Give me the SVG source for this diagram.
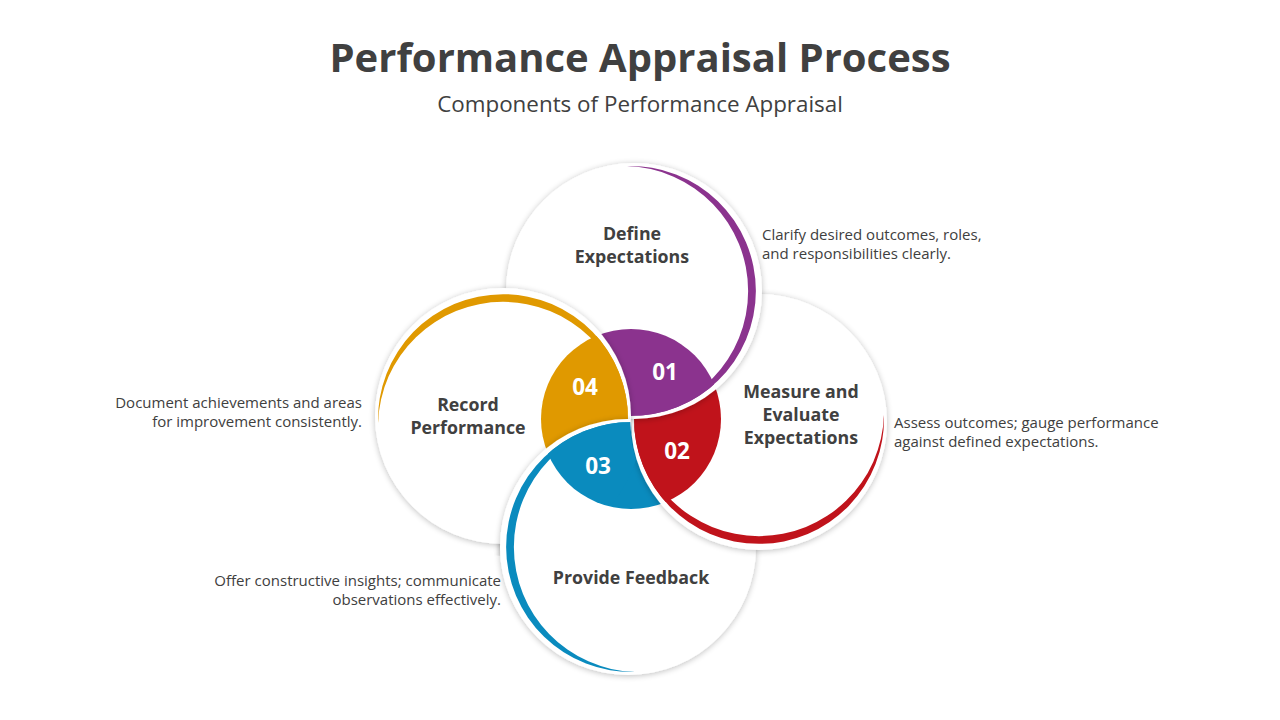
<svg xmlns="http://www.w3.org/2000/svg" xmlns:xlink="http://www.w3.org/1999/xlink" width="1280" height="720" viewBox="0 0 1280 720">
<style>
.title{font-family:"Open Sans","Noto Sans",sans-serif;font-weight:700;font-size:40px;fill:#404040;text-anchor:middle}
.sub{font-family:"Open Sans","Noto Sans",sans-serif;font-size:22.4px;fill:#404040;text-anchor:middle}
.lbl{font-family:"Open Sans","Noto Sans",sans-serif;font-weight:700;font-size:17.8px;fill:#404040;text-anchor:middle}
.num{font-family:"Open Sans","Noto Sans",sans-serif;font-weight:700;font-size:22.5px;fill:#ffffff;text-anchor:middle}
.desc{font-family:"Open Sans","Noto Sans",sans-serif;font-size:15px;fill:#404040}
.r{text-anchor:end}
.disk{fill:#ffffff}
</style>
<defs>
<filter id="sh" x="-20%" y="-20%" width="140%" height="140%">
<feGaussianBlur in="SourceAlpha" stdDeviation="3"/>
<feOffset dx="0" dy="1" result="b"/>
<feComponentTransfer><feFuncA type="linear" slope="0.26"/></feComponentTransfer>
<feMerge><feMergeNode/><feMergeNode in="SourceGraphic"/></feMerge>
</filter>
<clipPath id="cTop"><circle cx="631" cy="291" r="125"/></clipPath>
<clipPath id="cRight"><circle cx="759" cy="419" r="125"/></clipPath>
<clipPath id="cBottom"><circle cx="631" cy="547" r="125"/></clipPath>
<clipPath id="cLeft"><circle cx="503" cy="419" r="125"/></clipPath>
<mask id="mOv" maskUnits="userSpaceOnUse" x="0" y="0" width="1280" height="720">
<circle cx="503" cy="416" r="140" fill="#ffffff"/>
<circle cx="759" cy="422" r="129" fill="#000000"/>
<rect x="631" y="0" width="300" height="417" fill="#000000"/>
</mask>
<g id="shp-top">
<circle class="disk" cx="634" cy="291" r="128" filter="url(#sh)"/>
<path d="M 627 166.06 A 125 125 0 1 1 627 415.94 A 125 125 0 0 0 627 166.06 Z" fill="#8B338E"/>
<circle cx="631" cy="419" r="90" fill="#8B338E" clip-path="url(#cTop)"/>
</g>
<g id="shp-right">
<circle class="disk" cx="759" cy="422" r="128" filter="url(#sh)"/>
<path d="M 883.94 415 A 125 125 0 1 1 634.06 415 A 125 125 0 0 0 883.94 415 Z" fill="#C0131B"/>
<circle cx="631" cy="419" r="90" fill="#C0131B" clip-path="url(#cRight)"/>
</g>
<g id="shp-bottom">
<circle class="disk" cx="628" cy="547" r="128" filter="url(#sh)"/>
<path d="M 635 671.94 A 125 125 0 1 1 635 422.06 A 125 125 0 0 0 635 671.94 Z" fill="#0A8BBE"/>
<circle cx="631" cy="419" r="90" fill="#0A8BBE" clip-path="url(#cBottom)"/>
</g>
<g id="shp-left">
<circle class="disk" cx="503" cy="416" r="128" filter="url(#sh)"/>
<path d="M 378.06 423 A 125 125 0 1 1 627.94 423 A 125 125 0 0 0 378.06 423 Z" fill="#E09900"/>
<circle cx="631" cy="419" r="90" fill="#E09900" clip-path="url(#cLeft)"/>
</g>
</defs>
<rect width="1280" height="720" fill="#ffffff"/>
<text class="title" x="640" y="72">Performance Appraisal Process</text>
<text class="sub" x="640" y="112">Components of Performance Appraisal</text>
<g id="connectors"></g>
<g id="n3">
<use xlink:href="#shp-bottom"/>
<text class="lbl" x="631" y="584">Provide Feedback</text>
</g>
<g id="n2">
<use xlink:href="#shp-right"/>
<text class="lbl" x="801" y="398">Measure and</text>
<text class="lbl" x="801" y="421">Evaluate</text>
<text class="lbl" x="801" y="444">Expectations</text>
<text class="num" x="677" y="459">02</text>
</g>
<g id="n1">
<use xlink:href="#shp-top"/>
<text class="lbl" x="632" y="240">Define</text>
<text class="lbl" x="632" y="263">Expectations</text>
<text class="num" x="665" y="380">01</text>
</g>
<g id="n4">
<use xlink:href="#shp-left"/>
<text class="lbl" x="468" y="411">Record</text>
<text class="lbl" x="468" y="434">Performance</text>
<text class="num" x="585" y="395">04</text>
</g>
<g id="n3-overlap" mask="url(#mOv)">
<use xlink:href="#shp-bottom"/>
</g>
<text class="num" x="598" y="474">03</text>
<g id="descriptions">
<text class="desc" x="762" y="240">Clarify desired outcomes, roles,</text>
<text class="desc" x="762" y="259">and responsibilities clearly.</text>
<text class="desc" x="894" y="428">Assess outcomes; gauge performance</text>
<text class="desc" x="894" y="447">against defined expectations.</text>
<text class="desc r" x="362" y="408">Document achievements and areas</text>
<text class="desc r" x="362" y="427">for improvement consistently.</text>
<text class="desc r" x="501" y="586">Offer constructive insights; communicate</text>
<text class="desc r" x="501" y="605">observations effectively.</text>
</g>
</svg>
